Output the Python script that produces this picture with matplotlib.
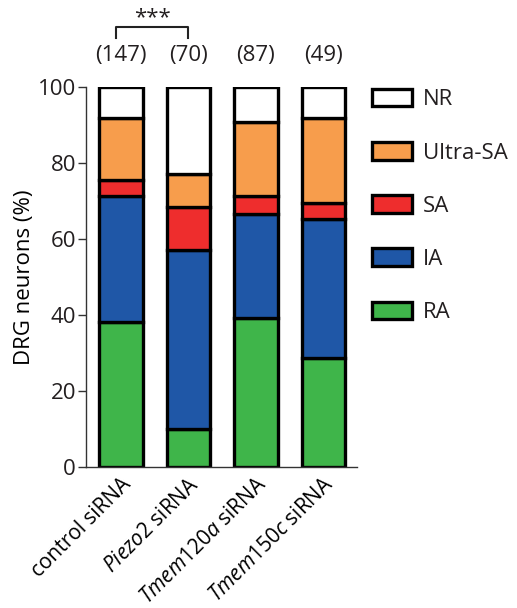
import matplotlib
matplotlib.use("Agg")
import matplotlib.pyplot as plt
import numpy as np

plt.rcParams['font.family'] = ['Open Sans', 'DejaVu Sans']
plt.rcParams['mathtext.fontset'] = 'custom'
plt.rcParams['mathtext.it'] = 'Open Sans:italic'
plt.rcParams['mathtext.rm'] = 'Open Sans'
plt.rcParams['text.color'] = '#231f20'

# Percent of DRG neurons per mechanoreceptor class
groups = ["control siRNA", r"$\it{Piezo2}$ siRNA", r"$\it{Tmem120a}$ siRNA", r"$\it{Tmem150c}$ siRNA"]
n_cells = [147, 70, 87, 49]
ra = [38.1, 10.0, 39.1, 28.6]
ia = [33.3, 47.1, 27.6, 36.7]
sa = [4.1, 11.4, 4.6, 4.1]
ultra_sa = [16.3, 8.6, 19.5, 22.4]
nr = [8.2, 22.9, 9.2, 8.2]

classes = ["RA", "IA", "SA", "Ultra-SA", "NR"]
colors = ["#3fb54a", "#1f57a7", "#ee2d2d", "#f79d4c", "#ffffff"]
series = [ra, ia, sa, ultra_sa, nr]

fig = plt.figure(figsize=(5.17, 6.08), dpi=100)
ax = fig.add_axes([0.166, 0.2324, 0.525, 0.624])

x = np.arange(len(groups))
bottom = np.zeros(len(groups))
handles = []
for vals, col, name in zip(series, colors, classes):
    b = ax.bar(x, vals, width=0.64, bottom=bottom, color=col,
               edgecolor="black", linewidth=2.4, label=name)
    handles.append(b)
    bottom += np.array(vals)

ax.set_xlim(-0.52, 3.5)
ax.set_ylim(0, 100)
ax.set_yticks([0, 20, 40, 60, 80, 100])
ax.tick_params(axis="y", labelsize=16, length=6, width=1, color="#333333",
               labelcolor="#231f20", pad=1)
ax.tick_params(axis="x", length=0, pad=5)
ax.set_xticks(x)
ax.set_xticklabels(groups, rotation=45, ha="right", rotation_mode="anchor", fontsize=15)
for s in ["top", "right"]:
    ax.spines[s].set_visible(False)
for s in ["left", "bottom"]:
    ax.spines[s].set_color("#333333")
    ax.spines[s].set_linewidth(1)
ax.set_ylabel("DRG neurons (%)", fontsize=16, labelpad=2)

# cell counts above bars
for xi, n in zip(x, n_cells):
    ax.text(xi, 108.5, f"({n})", ha="center", va="center", fontsize=16, clip_on=False)

# significance bracket between control and Piezo2
ax.plot([-0.07, -0.07, 1, 1], [113, 116, 116, 113], color="#222222", lw=1.5, clip_on=False)
ax.text(0.46, 115.6, "***", ha="center", va="bottom", fontsize=16, clip_on=False)

leg = ax.legend(handles[::-1], classes[::-1], loc="upper left",
                bbox_to_anchor=(0.979, 1.048), frameon=False, fontsize=16,
                handlelength=1.8, handleheight=0.82, labelspacing=1.43,
                handletextpad=0.5)

fig.savefig("out.png", dpi=100)
